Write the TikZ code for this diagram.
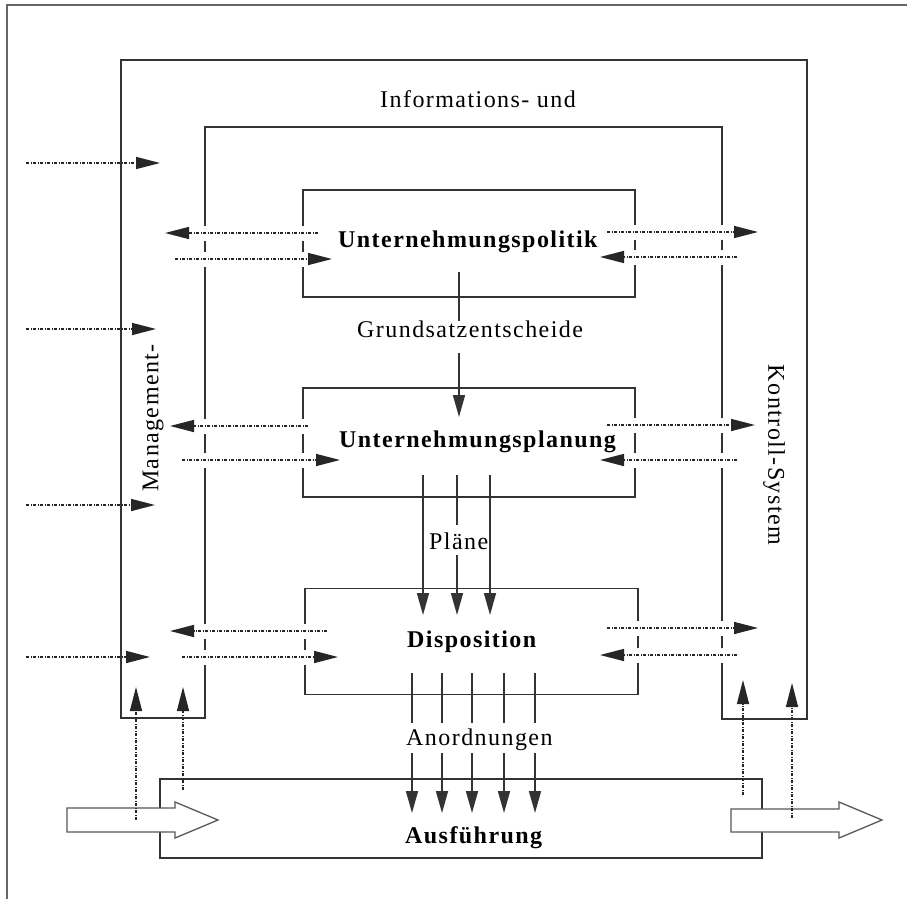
\documentclass[tikz,border=0pt]{standalone}
\usepackage{fontspec}
\setmainfont{Liberation Serif}[LetterSpace=6]
\usetikzlibrary{arrows.meta}
\begin{document}
\begin{tikzpicture}[x=1pt,y=-1pt,
  ln/.style={draw=black!80, line width=1.6pt},
  txt/.style={inner sep=0pt, font=\fontsize{24}{28}\selectfont, anchor=base west},
  btxt/.style={inner sep=0pt, font=\fontsize{24}{28}\selectfont\bfseries, anchor=base west},
  vtxt/.style={inner sep=0pt, font=\fontsize{24}{28}\selectfont, anchor=center},
  boxn/.style={ln, inner sep=0pt, minimum width=#1},
  dotarr/.style={draw=black!85, line width=1.5pt, dash pattern=on 3pt off 1.5pt on 1pt off 1.5pt, -{Triangle[length=24pt,width=12pt]}},
  gapband/.style={draw=white, line width=15pt},
  solarr/.style={ln, -{Triangle[length=22pt,width=12pt]}},
  bigarr/.style={draw=black!65, line width=1.3pt, fill=white, line join=miter}
]
\useasboundingbox (0,0) rectangle (907,899);
\fill[white] (0,0) rectangle (907,899);
% outer frame
\draw[draw=black!60, line width=1.6pt] (7,899) -- (7,5) -- (907,5);
% U-shaped management system
\draw[ln] (121,718) -- (121,60) -- (807,60) -- (807,719) -- (722,719) -- (722,127) -- (205,127) -- (205,718) -- cycle;
% boxes
\node[boxn=332pt, minimum height=107pt] (pol) at (469,243.5) {};
\node[boxn=332pt, minimum height=109pt] (pla) at (469,442.5) {};
\node[boxn=333pt, minimum height=106pt] (dis) at (471.5,641.5) {};
\node[boxn=602pt, minimum height=79pt] (aus) at (461,818.5) {};
% big hollow arrows
\draw[bigarr] (67,808) -- (175,808) -- (175,802) -- (218,820) -- (175,838) -- (175,832) -- (67,832) -- cycle;
\draw[bigarr] (731,809) -- (839,809) -- (839,802) -- (882,820) -- (839,838) -- (839,832) -- (731,832) -- cycle;
% inner horizontal dotted arrows (with gaps in crossed lines)
\foreach \n/\xa/\ya/\xb/\yb in {
  a/318/233/165/233, b/175/259/332/259, c/607/232/758/232, d/737/257/600/257,
  e/308/426/170/426, f/182/460/340/460, g/607/425/755/425, h/737/460/600/460,
  i/327/631/170/631, j/182/657/338/657, k/607/628/758/628, l/737/655/600/655}{
  \coordinate (s\n) at (\xa,\yb);
  \coordinate (t\n) at (\xb,\yb);
  \draw[gapband] (s\n) -- (t\n);
}
\foreach \n in {a,b,c,d,e,f,g,h,i,j,k,l}{
  \draw[dotarr] (s\n) -- (t\n);
}
% outer left dotted arrows
\foreach \n/\xb/\y in {m/160/163, o/156/329, p/155/505, q/150/657}{
  \coordinate (s\n) at (26,\y);
  \coordinate (t\n) at (\xb,\y);
  \draw[dotarr] (s\n) -- (t\n);
}
% vertical dotted arrows from Ausfuehrung
\foreach \n/\x/\ya/\yb in {r/136/820/687, u/183/790/687, v/743/795/680, w/792/818/683}{
  \coordinate (s\n) at (\x,\ya);
  \coordinate (t\n) at (\x,\yb);
  \draw[dotarr] (s\n) -- (t\n);
}
% Grundsatzentscheide
\coordinate (g1) at (459,272); \coordinate (g2) at (459,321);
\coordinate (g3) at (459,353); \coordinate (g4) at (459,417);
\draw[ln] (g1) -- (g2);
\draw[solarr] (g3) -- (g4);
% Plaene
\coordinate (p1a) at (423,475); \coordinate (p1b) at (423,615);
\coordinate (p2a) at (457,475); \coordinate (p2b) at (457,525);
\coordinate (p2c) at (457,555); \coordinate (p2d) at (457,615);
\coordinate (p3a) at (490,475); \coordinate (p3b) at (490,615);
\draw[solarr] (p1a) -- (p1b);
\draw[ln] (p2a) -- (p2b);
\draw[solarr] (p2c) -- (p2d);
\draw[solarr] (p3a) -- (p3b);
% Anordnungen
\foreach \i/\x in {1/412,2/442,3/472,4/504,5/535}{
  \coordinate (an\i) at (\x,673); \coordinate (bn\i) at (\x,723);
  \coordinate (cn\i) at (\x,753); \coordinate (dn\i) at (\x,813);
  \draw[ln] (an\i) -- (bn\i);
  \draw[solarr] (cn\i) -- (dn\i);
}
% texts
\node[txt, anchor=base] (tinf) at (478,107) {Informations- und};
\node[btxt] (tpol) at (338,247) {Unternehmungspolitik};
\node[txt] (tgru) at (357,337) {Grundsatzentscheide};
\node[btxt] (tpla) at (339,447) {Unternehmungsplanung};
\node[txt] (tpln) at (429,549) {Pläne};
\node[btxt] (tdis) at (407,647) {Disposition};
\node[txt] (tano) at (406,745) {Anordnungen};
\node[btxt] (taus) at (405,843) {Ausführung};
\node[vtxt, rotate=90] (tman) at (153,418) {Management-};
\node[vtxt, rotate=-90] (tkon) at (774,455) {Kontroll-System};
\end{tikzpicture}
\end{document}
